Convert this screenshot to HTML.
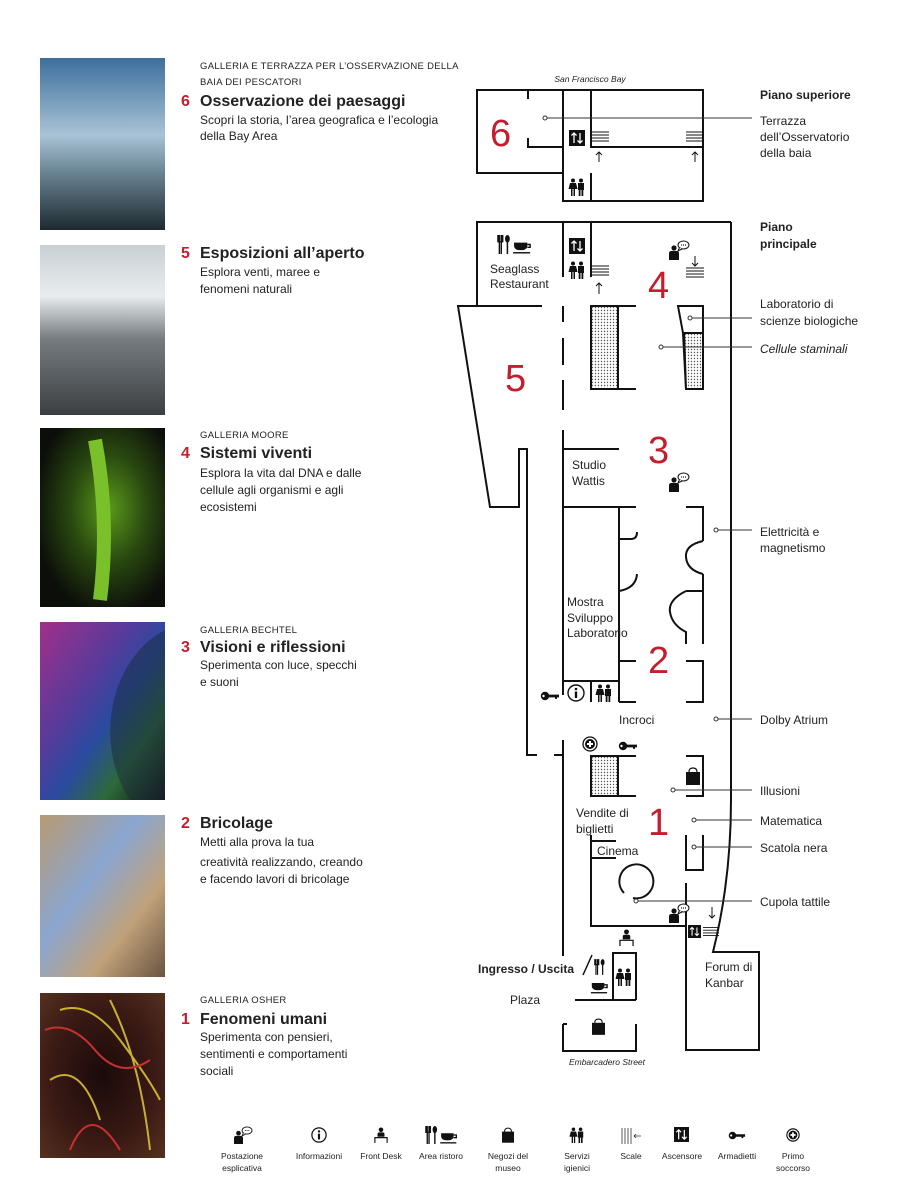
<!DOCTYPE html>
<html><head><meta charset="utf-8"><style>
html,body{margin:0;padding:0;background:#fff}
svg{display:block}
text{font-family:"Liberation Sans",sans-serif;fill:#222}
.cap{font-size:9.5px;letter-spacing:.3px}
.tt{font-size:16px;font-weight:bold}
.num{font-size:16px;font-weight:bold;fill:#c41e2e}
.ds{font-size:12px}
.lb{font-size:12px}
.big{font-size:38px;fill:#c41e2e}
.lg{font-size:8.5px;text-anchor:middle}
.w{fill:none;stroke:#111;stroke-width:2}
.ld{fill:none;stroke:#333;stroke-width:1}
</style></head><body>
<svg width="900" height="1200" viewBox="0 0 900 1200" xmlns="http://www.w3.org/2000/svg">
<defs>
<pattern id="dots" width="3" height="3" patternUnits="userSpaceOnUse"><rect width="3" height="3" fill="#fff"/><circle cx="1.5" cy="1.5" r="0.7" fill="#555"/></pattern>
<linearGradient id="g6" x1="0" y1="0" x2="0" y2="1"><stop offset="0" stop-color="#3d6f9c"/><stop offset=".45" stop-color="#a9c3d6"/><stop offset=".65" stop-color="#6d8897"/><stop offset="1" stop-color="#1e2a30"/></linearGradient>
<linearGradient id="g5" x1="0" y1="0" x2="0" y2="1"><stop offset="0" stop-color="#c9d0d4"/><stop offset=".3" stop-color="#e8ecee"/><stop offset=".55" stop-color="#777c80"/><stop offset="1" stop-color="#3b3f42"/></linearGradient>
<radialGradient id="g4" cx=".55" cy=".45" r=".6"><stop offset="0" stop-color="#5a9a1a"/><stop offset=".5" stop-color="#2a4a10"/><stop offset="1" stop-color="#0c0e0a"/></radialGradient>
<linearGradient id="g3" x1="0" y1="0" x2="1" y2="1"><stop offset="0" stop-color="#a0308a"/><stop offset=".35" stop-color="#5a3a9a"/><stop offset=".55" stop-color="#2a4aa0"/><stop offset=".75" stop-color="#2c6a3a"/><stop offset="1" stop-color="#111"/></linearGradient>
<linearGradient id="g2" x1="0" y1="0" x2="1" y2="1"><stop offset="0" stop-color="#b89a72"/><stop offset=".4" stop-color="#8aa6d0"/><stop offset=".7" stop-color="#c0a27a"/><stop offset="1" stop-color="#6a5440"/></linearGradient>
<radialGradient id="g1" cx=".5" cy=".5" r=".7"><stop offset="0" stop-color="#1a0a0a"/><stop offset=".6" stop-color="#3a1a14"/><stop offset="1" stop-color="#553020"/></radialGradient>
<symbol id="elev" viewBox="0 0 16 16"><rect width="16" height="16" fill="#111"/><path d="M5 13V3M2.5 5.5L5 3l2.5 2.5M11 3v10M8.5 10.5L11 13l2.5-2.5" stroke="#fff" stroke-width="1.3" fill="none"/></symbol>
<symbol id="wc" viewBox="0 0 18 18"><circle cx="5" cy="2.5" r="2" fill="#111"/><path d="M2 5h6l1.5 6H0.5z M3 11h1.5v7H3z M5.5 11H7v7H5.5z" fill="#111"/><circle cx="13" cy="2.5" r="2" fill="#111"/><path d="M10 5h6v7h-6z M10.7 12h1.8v6h-1.8z M13.5 12h1.8v6h-1.8z" fill="#111"/></symbol>
<symbol id="post" viewBox="0 0 22 20"><circle cx="6" cy="8" r="2.6" fill="#111"/><path d="M1 20v-6.5q0-2.5 2.5-2.5h5q2.5 0 2.5 2.5V20z" fill="#111"/><ellipse cx="15.5" cy="5" rx="5.5" ry="4" fill="#fff" stroke="#111" stroke-width="1"/><path d="M11.5 7.5L10 11l4-2" fill="#fff" stroke="#111" stroke-width="1"/><circle cx="13.5" cy="5" r=".6"/><circle cx="15.5" cy="5" r=".6"/><circle cx="17.5" cy="5" r=".6"/></symbol>
<symbol id="food" viewBox="0 0 38 20"><path d="M1 0v7h5V0M2.5 0v20M4.5 0v20" stroke="#111" stroke-width="1.5" fill="none"/><ellipse cx="11" cy="4" rx="2.5" ry="4" fill="#111"/><rect x="10.2" y="6" width="1.6" height="14" fill="#111"/><path d="M18 8h14v3q0 5-7 5t-7-5z" fill="#111"/><path d="M32 10h3v3h-3" stroke="#111" stroke-width="1.5" fill="none"/><rect x="17" y="18" width="18" height="1.5" fill="#111"/></symbol>
<symbol id="fork" viewBox="0 0 14 20"><path d="M1 0v7h5V0M2.5 0v20M4.5 0v20" stroke="#111" stroke-width="1.5" fill="none"/><ellipse cx="11" cy="4" rx="2.5" ry="4" fill="#111"/><rect x="10.2" y="6" width="1.6" height="14" fill="#111"/></symbol>
<symbol id="cup" viewBox="16 7 20 13"><path d="M18 8h14v3q0 5-7 5t-7-5z" fill="#111"/><path d="M32 10h3v3h-3" stroke="#111" stroke-width="1.5" fill="none"/><rect x="17" y="18" width="18" height="1.5" fill="#111"/></symbol>
<symbol id="key" viewBox="0 0 20 10"><circle cx="5" cy="5" r="4.2" fill="#111"/><circle cx="3.5" cy="5" r="1.2" fill="#fff"/><path d="M8 3.6h11v2.8h-2v1.5h-2v-1.5H8z" fill="#111"/></symbol>
<symbol id="plus" viewBox="0 0 16 16"><circle cx="8" cy="8" r="7" fill="#fff" stroke="#111" stroke-width="1.3"/><circle cx="8" cy="8" r="5" fill="#111"/><path d="M8 5v6M5 8h6" stroke="#fff" stroke-width="2"/></symbol>
<symbol id="info" viewBox="0 0 18 18"><circle cx="9" cy="9" r="8" fill="#fff" stroke="#111" stroke-width="1.4"/><circle cx="9" cy="5" r="1.3" fill="#111"/><rect x="7.8" y="7.5" width="2.4" height="6.5" fill="#111"/></symbol>
<symbol id="bag" viewBox="0 0 14 18"><path d="M3 5q0-4 4-4t4 4" stroke="#111" stroke-width="1.2" fill="none"/><rect x="0" y="5" width="14" height="13" fill="#111"/></symbol>
<symbol id="desk" viewBox="0 0 16 18"><circle cx="8" cy="3" r="2.6" fill="#111"/><path d="M4 11V8q0-2 2-2h4q2 0 2 2v3z" fill="#111"/><path d="M1 18v-6h14v6" stroke="#111" stroke-width="1.3" fill="none"/></symbol>
<symbol id="stairs" viewBox="0 0 18 12"><path d="M0 1h18M0 4h18M0 7h18M0 10h18" stroke="#111" stroke-width="1"/></symbol>
</defs>

<!-- photos -->
<rect x="40" y="58" width="125" height="172" fill="url(#g6)"/>
<rect x="40" y="245" width="125" height="170" fill="url(#g5)"/>
<rect x="40" y="428" width="125" height="179" fill="url(#g4)"/>
<path d="M95 440 Q110 520 100 600" stroke="#7ac02a" stroke-width="14" fill="none"/>
<rect x="40" y="622" width="125" height="178" fill="url(#g3)"/>
<path d="M165 630 A90 110 0 0 0 130 800 L165 800Z" fill="#1a2a3a" opacity=".5"/>
<rect x="40" y="815" width="125" height="162" fill="url(#g2)"/>
<rect x="40" y="993" width="125" height="165" fill="url(#g1)"/>
<path d="M60 1010 Q90 1000 120 1040 T160 1100 M50 1080 Q80 1060 100 1120 M110 1000 Q140 1060 150 1150" stroke="#c8b030" stroke-width="2" fill="none"/>
<path d="M45 1030 Q70 1020 95 1050 T150 1060 M70 1150 Q90 1100 120 1150" stroke="#c83030" stroke-width="2" fill="none"/>

<!-- left text -->
<text class="cap" x="200" y="69">GALLERIA E TERRAZZA PER L’OSSERVAZIONE DELLA</text>
<text class="cap" x="200" y="85">BAIA DEI PESCATORI</text>
<text class="num" x="181" y="106">6</text><text class="tt" x="200" y="106">Osservazione dei paesaggi</text>
<text class="ds" x="200" y="124">Scopri la storia, l’area geografica e l’ecologia</text>
<text class="ds" x="200" y="140">della Bay Area</text>

<text class="num" x="181" y="258">5</text><text class="tt" x="200" y="258">Esposizioni all’aperto</text>
<text class="ds" x="200" y="276">Esplora venti, maree e</text>
<text class="ds" x="200" y="293">fenomeni naturali</text>

<text class="cap" x="200" y="438">GALLERIA MOORE</text>
<text class="num" x="181" y="458">4</text><text class="tt" x="200" y="458">Sistemi viventi</text>
<text class="ds" x="200" y="477">Esplora la vita dal DNA e dalle</text>
<text class="ds" x="200" y="494">cellule agli organismi e agli</text>
<text class="ds" x="200" y="511">ecosistemi</text>

<text class="cap" x="200" y="633">GALLERIA BECHTEL</text>
<text class="num" x="181" y="652">3</text><text class="tt" x="200" y="652">Visioni e riflessioni</text>
<text class="ds" x="200" y="669">Sperimenta con luce, specchi</text>
<text class="ds" x="200" y="686">e suoni</text>

<text class="num" x="181" y="828">2</text><text class="tt" x="200" y="828">Bricolage</text>
<text class="ds" x="200" y="846">Metti alla prova la tua</text>
<text class="ds" x="200" y="866">creatività realizzando, creando</text>
<text class="ds" x="200" y="883">e facendo lavori di bricolage</text>

<text class="cap" x="200" y="1003">GALLERIA OSHER</text>
<text class="num" x="181" y="1024">1</text><text class="tt" x="200" y="1024">Fenomeni umani</text>
<text class="ds" x="200" y="1041">Sperimenta con pensieri,</text>
<text class="ds" x="200" y="1058">sentimenti e comportamenti</text>
<text class="ds" x="200" y="1075">sociali</text>

<!-- top floor -->
<text x="590" y="82" style="font-size:8.5px;font-style:italic;text-anchor:middle">San Francisco Bay</text>
<path class="w" d="M477 90H703V201H563V173H477Z"/>
<path class="w" d="M528 90V99M528 138V147H563M563 90V201M591 90V147H703M591 173V201"/>
<use href="#elev" x="569" y="130" width="16" height="16"/>
<use href="#stairs" x="591" y="131" width="18" height="12"/>
<use href="#stairs" x="686" y="131" width="18" height="12"/>
<path d="M599 162V152M596 155l3-3 3 3M695 162V152M692 155l3-3 3 3" stroke="#111" stroke-width="1" fill="none"/>
<use href="#wc" x="568" y="178" width="18" height="18"/>
<text class="big" x="490" y="146">6</text>
<path class="ld" d="M545 118H752"/><circle cx="545" cy="118" r="2" fill="#fff" stroke="#333"/>

<!-- main floor -->
<path class="w" d="M731 222H477V306H458L490 507H519V449H527V755H537M554 755H563"/>
<path class="w" d="M477 306H542"/>
<path class="w" d="M731 222V800Q731 880 713 952H759V1050H686V926H591V835M591 841H616M591 858H616"/>
<path class="w" d="M563 222V277M591 222V277"/>
<path class="w" d="M563 306V322M563 338V365M563 380V410M563 430V695M563 740V956"/>
<path class="w" d="M563 449H619"/>
<rect x="591" y="306" width="27" height="83" fill="url(#dots)" stroke="#111" stroke-width="2"/>
<path class="w" d="M618 306H636M618 389H636"/>
<path d="M678 306H703V389H686L683 333Z" fill="#fff" stroke="#111" stroke-width="2"/>
<path d="M684 333H703V389H686Z" fill="url(#dots)" stroke="#111" stroke-width="2"/>
<path class="w" d="M563 507H636M686 507H703V541M703 574V644M686 591H703M619 507V702"/>
<path class="w" d="M619 539H631Q637 539 637 532M637 574Q636 588 619 591"/>
<path class="w" d="M703 541Q685 545 686 557Q687 570 703 574"/>
<path class="w" d="M686 591Q668 600 670 612Q672 625 686 632V644"/>
<path class="w" d="M619 661H636M686 661H703V702H686M619 702H636M563 681H619M591 681V702"/>
<rect x="591" y="756" width="27" height="40" fill="url(#dots)" stroke="#111" stroke-width="2"/>
<path class="w" d="M618 756H636M618 796H636M686 756H703V796H686"/>
<path class="w" d="M686 883V926"/>
<path class="w" d="M624 893A17 17 0 1 1 633 898"/>
<path class="w" d="M686 835V870H703V835"/>
<path class="w" d="M613 1000V953H636V1000M575 1000H636M563 1024V1051H636V1024M563 1024H567"/>
<path d="M583 975L592 955" stroke="#111" stroke-width="1.5"/>

<!-- map icons -->
<use href="#food" x="497" y="235" width="36" height="19"/>
<use href="#elev" x="569" y="238" width="16" height="16"/>
<use href="#wc" x="568" y="261" width="18" height="18"/>
<use href="#stairs" x="591" y="265" width="18" height="12"/>
<path d="M599 294V283M596 286l3-3 3 3" stroke="#111" stroke-width="1" fill="none"/>
<use href="#post" x="668" y="240" width="22" height="20"/>
<path d="M695 256V266M692 263l3 3 3-3" stroke="#111" stroke-width="1" fill="none"/>
<use href="#stairs" x="686" y="267" width="18" height="12"/>
<use href="#post" x="668" y="472" width="22" height="20"/>
<use href="#key" x="540" y="691" width="20" height="10"/>
<use href="#info" x="567" y="684" width="18" height="18"/>
<use href="#wc" x="595" y="684" width="18" height="18"/>
<use href="#plus" x="582" y="736" width="16" height="16"/>
<use href="#key" x="618" y="741" width="20" height="10"/>
<use href="#bag" x="686" y="767" width="14" height="18"/>
<use href="#post" x="668" y="903" width="22" height="20"/>
<path d="M712 907V918M709 915l3 3 3-3" stroke="#111" stroke-width="1" fill="none"/>
<use href="#elev" x="688" y="925" width="13" height="13"/>
<use href="#stairs" x="703" y="926" width="16" height="12"/>
<use href="#desk" x="619" y="929" width="15" height="17"/>
<use href="#fork" x="594" y="958" width="11" height="18"/>
<use href="#cup" x="590" y="982" width="18" height="12"/>
<use href="#wc" x="615" y="968" width="18" height="18"/>
<use href="#bag" x="592" y="1018" width="13" height="17"/>

<text class="big" x="648" y="298">4</text>
<text class="big" x="505" y="391">5</text>
<text class="big" x="648" y="463">3</text>
<text class="big" x="648" y="673">2</text>
<text class="big" x="648" y="835">1</text>

<text class="lb" x="490" y="273">Seaglass</text><text class="lb" x="490" y="288">Restaurant</text>
<text class="lb" x="572" y="469">Studio</text><text class="lb" x="572" y="485">Wattis</text>
<text class="lb" x="567" y="606">Mostra</text><text class="lb" x="567" y="622">Sviluppo</text><text class="lb" x="567" y="637">Laboratorio</text>
<text class="lb" x="619" y="724">Incroci</text>
<text class="lb" x="576" y="817">Vendite di</text><text class="lb" x="576" y="833">biglietti</text>
<text class="lb" x="597" y="855">Cinema</text>
<text class="lb" x="705" y="971">Forum di</text><text class="lb" x="705" y="987">Kanbar</text>
<text x="478" y="973" style="font-size:12px;font-weight:bold">Ingresso / Uscita</text>
<text class="lb" x="510" y="1004">Plaza</text>
<text x="607" y="1065" style="font-size:8.5px;font-style:italic;text-anchor:middle">Embarcadero Street</text>

<!-- leaders -->
<g class="ld">
<path d="M690 318H752M661 347H752M716 530H752M716 719H752M673 790H752M694 820H752M694 847H752M636 901H752"/>
</g>
<g fill="#fff" stroke="#333" stroke-width="1">
<circle cx="690" cy="318" r="2"/><circle cx="661" cy="347" r="2"/><circle cx="716" cy="530" r="2"/><circle cx="716" cy="719" r="2"/><circle cx="673" cy="790" r="2"/><circle cx="694" cy="820" r="2"/><circle cx="694" cy="847" r="2"/><circle cx="636" cy="901" r="2"/>
</g>
<text class="lb" x="760" y="99" style="font-weight:bold">Piano superiore</text>
<text class="lb" x="760" y="125">Terrazza</text><text class="lb" x="760" y="141">dell’Osservatorio</text><text class="lb" x="760" y="157">della baia</text>
<text class="lb" x="760" y="231" style="font-weight:bold">Piano</text><text class="lb" x="760" y="248" style="font-weight:bold">principale</text>
<text class="lb" x="760" y="308">Laboratorio di</text><text class="lb" x="760" y="325">scienze biologiche</text>
<text class="lb" x="760" y="353" style="font-style:italic">Cellule staminali</text>
<text class="lb" x="760" y="536">Elettricità e</text><text class="lb" x="760" y="552">magnetismo</text>
<text class="lb" x="760" y="724">Dolby Atrium</text>
<text class="lb" x="760" y="795">Illusioni</text>
<text class="lb" x="760" y="825">Matematica</text>
<text class="lb" x="760" y="852">Scatola nera</text>
<text class="lb" x="760" y="906">Cupola tattile</text>

<!-- legend -->
<use href="#post" x="233" y="1126" width="20" height="18"/>
<use href="#info" x="311" y="1127" width="16" height="16"/>
<use href="#desk" x="374" y="1127" width="14" height="16"/>
<use href="#food" x="425" y="1126" width="34" height="18"/>
<use href="#bag" x="502" y="1127" width="12" height="16"/>
<use href="#wc" x="569" y="1127" width="16" height="16"/>
<path d="M622 1128V1144M625 1128V1144M628 1128V1144M631 1128V1144M641 1136H634M636 1134l-2 2 2 2" stroke="#333" stroke-width=".8" fill="none"/>
<use href="#elev" x="674" y="1127" width="15" height="15"/>
<use href="#key" x="727" y="1131" width="20" height="9"/>
<use href="#plus" x="786" y="1128" width="14" height="14"/>
<text class="lg" x="242" y="1159">Postazione</text><text class="lg" x="242" y="1171">esplicativa</text>
<text class="lg" x="319" y="1159">Informazioni</text>
<text class="lg" x="381" y="1159">Front Desk</text>
<text class="lg" x="441" y="1159">Area ristoro</text>
<text class="lg" x="508" y="1159">Negozi del</text><text class="lg" x="508" y="1171">museo</text>
<text class="lg" x="577" y="1159">Servizi</text><text class="lg" x="577" y="1171">igienici</text>
<text class="lg" x="631" y="1159">Scale</text>
<text class="lg" x="682" y="1159">Ascensore</text>
<text class="lg" x="737" y="1159">Armadietti</text>
<text class="lg" x="793" y="1159">Primo</text><text class="lg" x="793" y="1171">soccorso</text>
</svg>
</body></html>
